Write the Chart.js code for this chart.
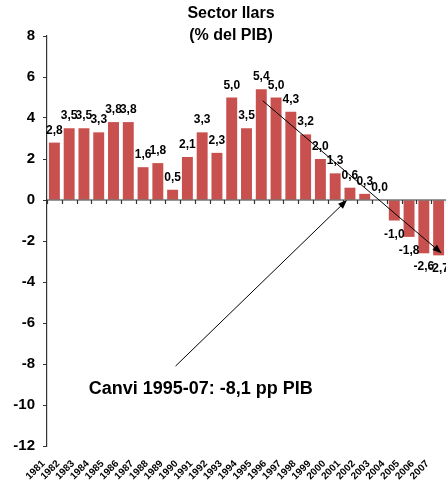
<!DOCTYPE html>
<html>
<head>
<meta charset="utf-8">
<script src="https://cdn.jsdelivr.net/npm/chart.js@4/dist/chart.umd.min.js"></script>
<style>
  html, body { margin: 0; padding: 0; background: #fff; }
  #wrap { width: 446px; height: 480px; position: relative; }
</style>
</head>
<body>
<div id="wrap"><canvas id="llarsChart"></canvas></div>
<script>
//chart data
var years = ['1981', '1982', '1983', '1984', '1985', '1986', '1987', '1988', '1989', '1990',
  '1991', '1992', '1993', '1994', '1995', '1996', '1997', '1998', '1999', '2000',
  '2001', '2002', '2003', '2004', '2005', '2006', '2007'];
var saldo_llars = [2.8, 3.5, 3.5, 3.3, 3.8, 3.8, 1.6, 1.8, 0.5, 2.1,
  3.3, 2.3, 5.0, 3.5, 5.4, 5.0, 4.3, 3.2, 2.0, 1.3,
  0.6, 0.3, 0.0, -1.0, -1.8, -2.6, -2.7];
var y_ticks = [8, 6, 4, 2, 0, -2, -4, -6, -8, -10, -12];
var title_lines = ['Sector llars', '(% del PIB)'];
var note_text = 'Canvi 1995-07: -8,1 pp PIB';
//arrows in data units: [x index, y value] from -> to
var trend_arrow = [[14.1, 4.84], [26.2, -2.6]];
var note_arrow = [[8.2, -8.1], [19.8, 0.0]];
var note_pos = [9.9, -9.2];

var font_family = '"Liberation Sans", Arial, Helvetica, sans-serif';
var bar_color = '#C8504E';
var axis_color = '#333333';

//format value with comma decimal
function formatValue(v) {
  return v.toFixed(1).replace('.', ',');
}

function drawArrow(ctx, x1, y1, x2, y2) {
  var ang = Math.atan2(y2 - y1, x2 - x1);
  var head = 9, half = 3.5;
  ctx.beginPath();
  ctx.moveTo(x1, y1);
  ctx.lineTo(x2 - Math.cos(ang) * head * 0.8, y2 - Math.sin(ang) * head * 0.8);
  ctx.stroke();
  ctx.beginPath();
  ctx.moveTo(x2, y2);
  ctx.lineTo(x2 - head * Math.cos(ang) + half * Math.sin(ang), y2 - head * Math.sin(ang) - half * Math.cos(ang));
  ctx.lineTo(x2 - head * Math.cos(ang) - half * Math.sin(ang), y2 - head * Math.sin(ang) + half * Math.cos(ang));
  ctx.closePath();
  ctx.fill();
}

//zero line with small ticks, value labels, title, note and arrows
var extrasPlugin = {
  id: 'extras',
  afterDatasetsDraw: function (chart) {
    var ctx = chart.ctx;
    var xs = chart.scales.x, ys = chart.scales.y;
    var area = chart.chartArea;
    var y0 = ys.getPixelForValue(0);
    ctx.save();
    ctx.strokeStyle = axis_color;
    ctx.lineWidth = 1.2;
    ctx.beginPath();
    ctx.moveTo(area.left, y0);
    ctx.lineTo(area.right, y0);
    for (var i = 0; i <= years.length; i++) {
      var bx = Math.round(xs.getPixelForValue(i - 0.5)) + 0.5;
      ctx.moveTo(bx, y0);
      ctx.lineTo(bx, y0 + 4);
    }
    ctx.stroke();

    //value labels
    ctx.fillStyle = '#000';
    ctx.font = 'bold 12px ' + font_family;
    ctx.textAlign = 'center';
    ctx.textBaseline = 'alphabetic';
    var meta = chart.getDatasetMeta(0);
    meta.data.forEach(function (bar, idx) {
      var v = saldo_llars[idx];
      if (v >= 0) {
        ctx.fillText(formatValue(v), bar.x, bar.y - 9);
      } else {
        ctx.fillText(formatValue(v), bar.x, bar.y + 17);
      }
    });

    //arrows
    ctx.strokeStyle = '#000';
    ctx.fillStyle = '#000';
    ctx.lineWidth = 1;
    [trend_arrow, note_arrow].forEach(function (a) {
      drawArrow(ctx,
        xs.getPixelForValue(a[0][0]), ys.getPixelForValue(a[0][1]),
        xs.getPixelForValue(a[1][0]), ys.getPixelForValue(a[1][1]));
    });

    //note
    ctx.font = 'bold 18px ' + font_family;
    ctx.textBaseline = 'middle';
    ctx.fillText(note_text, xs.getPixelForValue(note_pos[0]), ys.getPixelForValue(note_pos[1]));

    //title
    ctx.font = 'bold 16px ' + font_family;
    var tx = chart.width / 2 + 8;
    ctx.fillText(title_lines[0], tx, 14);
    ctx.fillText(title_lines[1], tx, 36);
    ctx.restore();
  }
};

var llars_chart = new Chart(document.getElementById('llarsChart').getContext('2d'), {
  type: 'bar',
  data: {
    labels: years,
    datasets: [{
      label: 'Sector llars',
      data: saldo_llars,
      backgroundColor: bar_color,
      borderWidth: 0,
      barPercentage: 0.74,
      categoryPercentage: 1.0
    }]
  },
  options: {
    responsive: true,
    maintainAspectRatio: false,
    animation: false,
    layout: {
      padding: { top: 36, right: -3, bottom: 0, left: 0 }
    },
    plugins: {
      legend: { display: false },
      tooltip: { enabled: false },
      title: { display: false }
    },
    scales: {
      x: {
        grid: { display: false, drawTicks: false },
        border: { display: false },
        afterFit: function (scale) {
          scale.height = 34;
          scale.paddingLeft = 0;
          scale.paddingRight = 0;
        },
        ticks: {
          autoSkip: false,
          minRotation: 45,
          maxRotation: 45,
          labelOffset: -11,
          padding: 12,
          color: '#000',
          font: { family: font_family, size: 10, weight: 'bold' }
        }
      },
      y: {
        min: -12,
        max: 8,
        afterFit: function (scale) { scale.width = 47; },
        afterBuildTicks: function (scale) {
          scale.ticks = y_ticks.map(function (v) { return { value: v }; });
        },
        grid: {
          drawOnChartArea: false,
          drawTicks: true,
          tickLength: 4,
          color: axis_color
        },
        border: { display: true, color: axis_color, width: 1.2 },
        ticks: {
          padding: 8,
          color: '#000',
          font: { family: font_family, size: 15, weight: 'bold' }
        }
      }
    }
  },
  plugins: [extrasPlugin]
});
</script>
</body>
</html>
